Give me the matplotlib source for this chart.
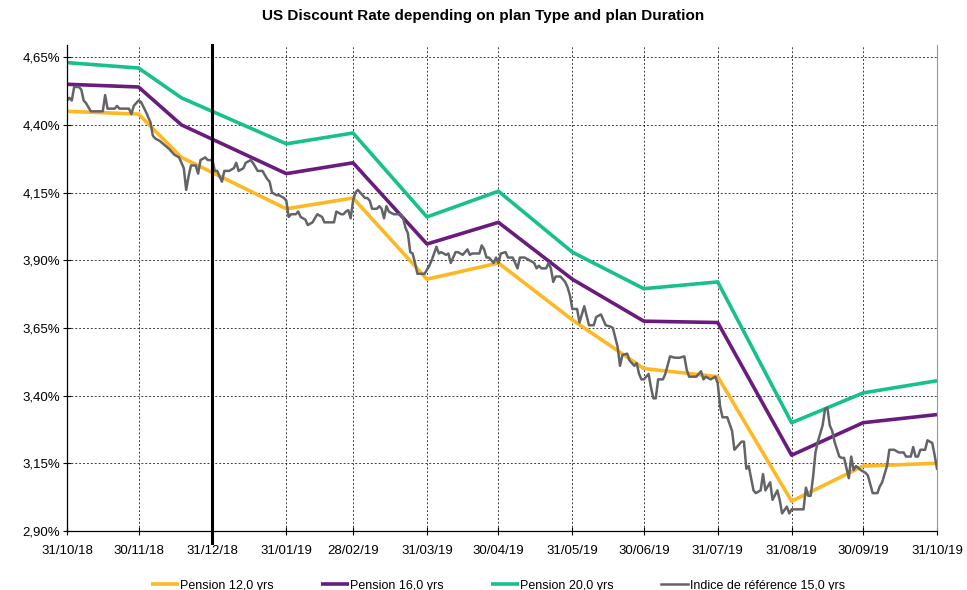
import numpy as np
import pandas as pd
import matplotlib
matplotlib.use('Agg')
import matplotlib.pyplot as plt
import matplotlib.dates as mdates
from matplotlib.ticker import FuncFormatter

plt.rcParams['font.family'] = ['Liberation Sans', 'DejaVu Sans']

# plan curves (monthly, plus one mid-December point)
plan_dates = ['2018-10-31', '2018-11-30', '2018-12-18', '2019-01-31', '2019-02-28', '2019-03-31',
              '2019-04-30', '2019-05-31', '2019-06-30', '2019-07-31', '2019-08-31', '2019-09-30',
              '2019-10-31']
pension_12 = [4.45, 4.44, 4.28, 4.09, 4.13, 3.83, 3.89, 3.68, 3.50, 3.47, 3.01, 3.14, 3.15]
pension_16 = [4.55, 4.54, 4.40, 4.22, 4.26, 3.96, 4.04, 3.83, 3.675, 3.67, 3.18, 3.30, 3.33]
pension_20 = [4.63, 4.61, 4.50, 4.33, 4.37, 4.06, 4.155, 3.93, 3.795, 3.82, 3.30, 3.41, 3.455]

# reference index: days since 31/10/18 and value in %
ref_day = [0, 1, 2, 3, 5, 6, 7, 8, 10, 12, 15, 16, 17, 20, 21, 22, 26, 27, 28, 30,
           31, 33, 35, 36, 37, 39, 41, 43, 45, 47, 48, 49, 50, 51, 52, 54, 55, 56, 58, 59,
           61, 62, 63, 65, 66, 68, 70, 71, 72, 74, 75, 77, 78, 80, 82, 84, 85, 86, 88, 89,
           91, 92, 93, 94, 96, 97, 98, 100, 101, 103, 105, 107, 108, 110, 112, 113, 115, 116, 117, 118,
           119, 120, 121, 122, 124, 125, 126, 127, 128, 130, 131, 132, 133, 134, 135, 137, 138, 140, 141, 142,
           143, 144, 145, 146, 147, 150, 152, 153, 155, 156, 157, 159, 160, 161, 163, 164, 166, 168, 169, 170,
           173, 174, 175, 176, 177, 179, 180, 181, 182, 184, 185, 187, 189, 190, 192, 194, 196, 197, 198, 199,
           201, 202, 203, 204, 205, 207, 209, 210, 211, 212, 214, 215, 217, 219, 221, 222, 224, 226, 228, 229,
           231, 232, 233, 235, 236, 238, 239, 240, 241, 242, 244, 245, 246, 247, 248, 250, 251, 253, 255, 257,
           259, 260, 261, 263, 264, 266, 267, 268, 270, 272, 273, 274, 275, 277, 279, 280, 282, 283, 284, 285,
           286, 288, 289, 291, 292, 293, 295, 296, 298, 299, 300, 302, 303, 304, 307, 309, 310, 311, 312, 313,
           314, 315, 317, 318, 319, 320, 321, 322, 324, 325, 326, 328, 329, 330, 331, 333, 335, 336, 338, 340,
           341, 342, 344, 345, 347, 349, 351, 352, 354, 355, 356, 357, 358, 360, 361, 363, 364, 365]
ref_val = [4.49, 4.50, 4.49, 4.54, 4.54, 4.53, 4.49, 4.48, 4.45, 4.45, 4.45, 4.51, 4.46, 4.46, 4.47, 4.46, 4.46, 4.44, 4.47, 4.49,
           4.485, 4.45, 4.41, 4.36, 4.35, 4.34, 4.325, 4.31, 4.29, 4.28, 4.26, 4.24, 4.16, 4.21, 4.25, 4.25, 4.22, 4.27, 4.28, 4.27,
           4.27, 4.23, 4.23, 4.19, 4.23, 4.23, 4.24, 4.26, 4.23, 4.24, 4.26, 4.27, 4.26, 4.23, 4.23, 4.20, 4.19, 4.15, 4.14, 4.14,
           4.13, 4.12, 4.06, 4.07, 4.07, 4.08, 4.06, 4.05, 4.03, 4.04, 4.07, 4.06, 4.04, 4.04, 4.04, 4.08, 4.07, 4.07, 4.08, 4.085,
           4.055, 4.12, 4.15, 4.16, 4.14, 4.13, 4.13, 4.12, 4.09, 4.09, 4.10, 4.09, 4.055, 4.10, 4.08, 4.07, 4.07, 4.07, 4.055, 4.02,
           4.00, 3.93, 3.925, 3.89, 3.85, 3.85, 3.88, 3.90, 3.95, 3.925, 3.93, 3.92, 3.925, 3.89, 3.93, 3.93, 3.92, 3.94, 3.92, 3.925,
           3.925, 3.955, 3.94, 3.91, 3.91, 3.89, 3.91, 3.89, 3.925, 3.93, 3.91, 3.91, 3.87, 3.91, 3.91, 3.90, 3.89, 3.87, 3.88, 3.87,
           3.87, 3.89, 3.87, 3.82, 3.84, 3.84, 3.82, 3.80, 3.77, 3.72, 3.72, 3.67, 3.73, 3.66, 3.66, 3.69, 3.70, 3.66, 3.655, 3.65,
           3.58, 3.51, 3.55, 3.555, 3.53, 3.51, 3.52, 3.48, 3.46, 3.46, 3.48, 3.43, 3.39, 3.39, 3.46, 3.46, 3.48, 3.545, 3.54, 3.54,
           3.545, 3.495, 3.47, 3.47, 3.47, 3.49, 3.46, 3.47, 3.46, 3.47, 3.445, 3.36, 3.32, 3.32, 3.27, 3.20, 3.22, 3.23, 3.23, 3.13,
           3.14, 3.05, 3.04, 3.05, 3.11, 3.05, 3.08, 3.015, 3.05, 3.015, 2.965, 2.99, 2.965, 2.98, 2.98, 2.98, 3.06, 3.03, 3.03, 3.10,
           3.19, 3.23, 3.29, 3.35, 3.355, 3.29, 3.27, 3.23, 3.175, 3.17, 3.17, 3.095, 3.175, 3.125, 3.14, 3.125, 3.115, 3.105, 3.04, 3.04,
           3.065, 3.08, 3.14, 3.20, 3.20, 3.19, 3.19, 3.175, 3.175, 3.21, 3.175, 3.175, 3.20, 3.20, 3.235, 3.225, 3.18, 3.13]

yticks = [2.90, 3.15, 3.40, 3.65, 3.90, 4.15, 4.40, 4.65]
month_ends = pd.date_range('2018-10-31', '2019-10-31', freq='ME')
year_end = pd.Timestamp('2018-12-31')

plan_dt = pd.to_datetime(plan_dates)
ref_dt = pd.Timestamp('2018-10-31') + pd.to_timedelta(ref_day, unit='D')

fig = plt.figure(figsize=(9.67, 5.9), dpi=100)
ax = fig.add_axes([0.0693, 0.1, 0.8997, 0.8237])

ax.plot(plan_dt, pension_12, color='#FDB825', lw=2.6, label='Pension 12,0 yrs', solid_capstyle='butt')
ax.plot(plan_dt, pension_16, color='#6A1C7E', lw=2.6, label='Pension 16,0 yrs', solid_capstyle='butt')
ax.plot(plan_dt, pension_20, color='#17C08C', lw=2.6, label='Pension 20,0 yrs', solid_capstyle='butt')
ax.plot(ref_dt, ref_val, color='#626468', lw=1.8, label='Indice de référence 15,0 yrs')

ax.axvline(year_end, ymin=-0.025, ymax=1, color='black', lw=2.2, clip_on=False, zorder=5)

ax.set_xlim(month_ends[0], month_ends[-1])
ax.set_ylim(2.90, 4.695)
ax.set_xticks(month_ends)
ax.xaxis.set_major_formatter(mdates.DateFormatter('%d/%m/%y'))
ax.set_yticks(yticks)
ax.yaxis.set_major_formatter(FuncFormatter(lambda v, p: ('%.2f%%' % v).replace('.', ',')))
ax.tick_params(axis='both', direction='inout', length=6, width=0.8, labelsize=9.5, colors='black')
ax.tick_params(axis='x', pad=7)
ax.tick_params(axis='y', pad=2)

ax.grid(True, color='black', lw=0.7, linestyle=(0, (2, 2)), alpha=0.75)
ax.set_axisbelow(True)
ax.spines['top'].set_visible(False)
ax.spines['right'].set_color('#999999')
ax.spines['left'].set_linewidth(0.9)
ax.spines['bottom'].set_linewidth(0.9)

fig.suptitle('US Discount Rate depending on plan Type and plan Duration',
             fontsize=11, fontweight='bold', y=0.985)

fig.legend(loc='lower center', bbox_to_anchor=(0.515, -0.022), ncol=4, frameon=False,
           fontsize=9, handlelength=2.2, columnspacing=3.8, handletextpad=0.1)

fig.savefig('out.png', dpi=100)
